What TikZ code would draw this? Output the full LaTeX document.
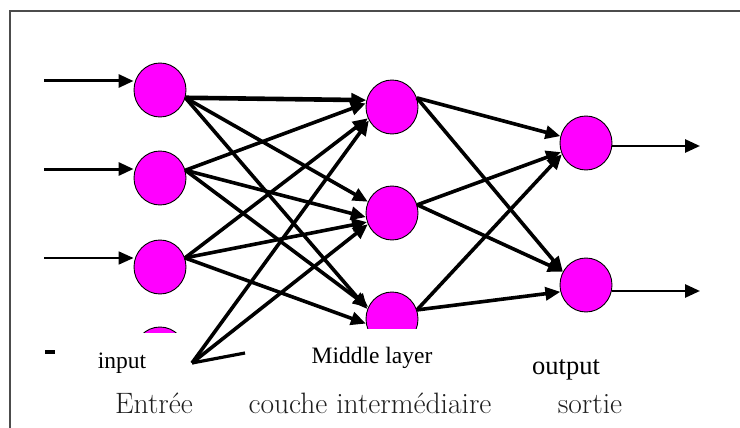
\documentclass[tikz,border=0pt]{standalone}
\usepackage{fontspec}
\newfontfamily\labelfont{Liberation Serif}
\usetikzlibrary{arrows.meta,shapes.geometric}

\definecolor{neuronfill}{RGB}{255,0,255}

\tikzset{
  neuron/.style={ellipse, draw=black, line width=0.9pt, fill=neuronfill,
    minimum width=52pt, minimum height=54pt, inner sep=0pt},
  link/.style={line width=3.6pt, -{Triangle[length=15pt,width=13pt]}},
  heavylink/.style={link, line width=4.6pt},
  feed/.style={line width=3pt, -{Triangle[length=15pt,width=13pt]}},
  thinfeed/.style={feed, line width=1.8pt},
  result/.style={line width=2.7pt, -{Triangle[length=15pt,width=13pt]}},
  plain/.style={line width=3.2pt},
  frameline/.style={draw=black!70, line width=2pt},
  tag/.style={anchor=base, inner sep=0pt, font=\labelfont\fontsize{23.5}{27}\selectfont},
  caption/.style={anchor=base, inner sep=0pt, text=black!88,
    font=\fontsize{29.5}{33}\selectfont},
}

\begin{document}
\begin{tikzpicture}[x=1pt,y=-1pt]
\useasboundingbox (0,0) rectangle (740,428);

% outer frame (open on the right and at the bottom)
\draw[frameline] (9.5,428) |- (740,11);

% neurons
\node[neuron] (I1) at (160,90) {};
\node[neuron] (I2) at (160,178) {};
\node[neuron] (I3) at (160,267) {};
\node[neuron] (I4) at (160,354) {};
\node[neuron] (M1) at (392,107) {};
\node[neuron] (M2) at (392,213) {};
\node[neuron] (M3) at (392,319) {};
\node[neuron] (O1) at (586,143) {};
\node[neuron] (O2) at (586,285) {};

% free ends of the input and output arrows
\coordinate (in1) at (44,81);
\coordinate (in2) at (44,169);
\coordinate (in3) at (44,258);
\coordinate (out1) at (700,146);
\coordinate (out2) at (700,291);

% inputs
\draw[feed] (in1) -- (in1 -| I1.west);
\draw[feed] (in2) -- (in2 -| I2.west);
\draw[thinfeed] (in3) -- (in3 -| I3.west);

% input layer -> middle layer
\draw[heavylink] (I1.-17) -- (M1.165);
\draw[link] (I1.-17) -- (M2.155);
\draw[link] (I1.-17) -- (M3.158);
\draw[link] (I2.17) -- (M1.172);
\draw[link] (I2.17) -- (M2.189);
\draw[link] (I2.17) -- (M3.153);
\draw[link] (I3.20) -- (M1.205);
\draw[link] (I3.20) -- (M2.200);
\draw[link] (I3.20) -- (M3.190);

% middle layer -> output layer
\draw[link] (M1.20) -- (O1.165);
\draw[link] (M1.20) -- (O2.150);
\draw[link] (M2.18) -- (O1.200);
\draw[link] (M2.18) -- (O2.150);
\draw[link] (M3.20) -- (O1.205);
\draw[link] (M3.20) -- (O2.195);

% outputs
\draw[result] (O1.east |- out1) -- (out1);
\draw[result] (O2.east |- out2) -- (out2);

% label boxes laid over the lower part of the network
\fill[white] (95,333) rectangle (240,428);
\fill[white] (245,329) rectangle (520,428);

% fan of lines next to the "input" label
\coordinate (fan) at (192,363);
\coordinate (stub) at (245,353);
\draw[link] (fan) -- (M1.210);
\draw[link] (fan) -- (M2.205);
\draw[plain] (fan) -- (stub);

% small dash on the left
\fill[black] (45,350) rectangle (55,354);

% labels
\node[tag] (lin) at (122,368) {input};
\node[tag] (lmid) at (372,363) {Middle layer};
\node[tag, font=\labelfont\fontsize{26.5}{30}\selectfont] (lout) at (566,374) {output};

\node[caption] (cin) at (154,413) {Entrée};
\node[caption] (cmid) at (370,413) {couche intermédiaire};
\node[caption] (cout) at (590,413) {sortie};
\end{tikzpicture}
\end{document}
